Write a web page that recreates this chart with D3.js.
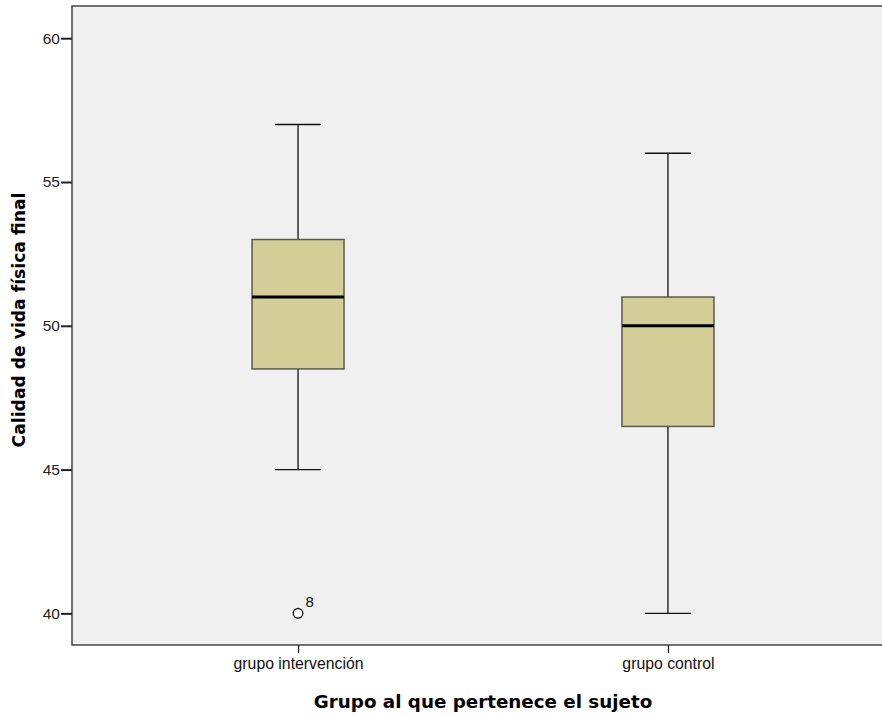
<!DOCTYPE html>
<html><head><meta charset="utf-8">
<script src="https://cdn.jsdelivr.net/npm/d3@7"></script>
<style>body{margin:0;background:#fff}svg{display:block}</style>
</head><body>
<script>
const categories = ["grupo intervención", "grupo control"];
const mins = [45, 40];
const q1s = [48.5, 46.5];
const medians = [51, 50];
const q3s = [53, 51];
const maxs = [57, 56];
const outliers = [{group: "grupo intervención", value: 40, label: "8"}];
const yTicks = [40, 45, 50, 55, 60];

const W = 882, H = 717;
const L = 72, R = 894, T = 6, B = 645;
const svg = d3.select("body").append("svg").attr("width", W).attr("height", H);

const x = d3.scalePoint().domain(categories).range([L, R]).padding(0.611);
const y = d3.scaleLinear().domain([38.9, 61.12]).range([B, T]);

svg.append("rect").attr("x", L).attr("y", T).attr("width", R - L).attr("height", B - T)
  .attr("fill", "#f0f0f0").attr("stroke", "#444").attr("stroke-width", 1.5);

const boxW = 92, capW = 46;
categories.forEach((c, i) => {
  const cx = x(c);
  const g = svg.append("g");
  g.append("line").attr("x1", cx).attr("x2", cx).attr("y1", y(maxs[i])).attr("y2", y(q3s[i])).attr("stroke", "#111").attr("stroke-width", 1.3);
  g.append("line").attr("x1", cx).attr("x2", cx).attr("y1", y(q1s[i])).attr("y2", y(mins[i])).attr("stroke", "#111").attr("stroke-width", 1.3);
  g.append("line").attr("x1", cx - capW/2).attr("x2", cx + capW/2).attr("y1", y(maxs[i])).attr("y2", y(maxs[i])).attr("stroke", "#111").attr("stroke-width", 1.3);
  g.append("line").attr("x1", cx - capW/2).attr("x2", cx + capW/2).attr("y1", y(mins[i])).attr("y2", y(mins[i])).attr("stroke", "#111").attr("stroke-width", 1.3);
  g.append("rect").attr("x", cx - boxW/2).attr("y", y(q3s[i])).attr("width", boxW).attr("height", y(q1s[i]) - y(q3s[i]))
    .attr("fill", "#d3ce97").attr("stroke", "#5a5a50").attr("stroke-width", 1.5);
  g.append("line").attr("x1", cx - boxW/2).attr("x2", cx + boxW/2).attr("y1", y(medians[i])).attr("y2", y(medians[i])).attr("stroke", "#000").attr("stroke-width", 3);
});

outliers.forEach(o => {
  svg.append("circle").attr("cx", x(o.group)).attr("cy", y(o.value)).attr("r", 4.8)
    .attr("fill", "#f8f8f8").attr("stroke", "#222").attr("stroke-width", 1.4);
  svg.append("text").attr("x", x(o.group) + 7.5).attr("y", y(o.value) - 6)
    .attr("font-family", "Liberation Sans, Arial, sans-serif").attr("font-size", 15).attr("fill", "#111").text(o.label);
});

// Y axis
const yAxis = d3.axisLeft(y).tickValues(yTicks).tickSize(11).tickPadding(1).tickFormat(d3.format("d"));
const ya = svg.append("g").attr("transform", `translate(${L},0)`).call(yAxis);
ya.select(".domain").remove();
ya.selectAll(".tick line").attr("stroke", "#222").attr("stroke-width", 2);
ya.selectAll(".tick text").attr("font-family", "Liberation Sans, Arial, sans-serif").attr("font-size", 15.5).attr("fill", "#222");

// X axis
const xAxis = d3.axisBottom(x).tickSize(8).tickPadding(5);
const xa = svg.append("g").attr("transform", `translate(0,${B})`).call(xAxis);
xa.select(".domain").remove();
xa.selectAll(".tick line").attr("stroke", "#222").attr("stroke-width", 1.3);
xa.selectAll(".tick text").attr("font-family", "Liberation Sans, Arial, sans-serif").attr("font-size", 15.8).attr("fill", "#111");

svg.append("text").attr("x", 483).attr("y", 708).attr("text-anchor", "middle")
  .attr("font-family", "DejaVu Sans, Verdana, sans-serif").attr("font-weight", "bold").attr("font-size", 18.3).attr("fill", "#000")
  .text("Grupo al que pertenece el sujeto");

svg.append("text").attr("transform", `translate(25,320) rotate(-90)`).attr("text-anchor", "middle")
  .attr("font-family", "DejaVu Sans, Verdana, sans-serif").attr("font-weight", "bold").attr("font-size", 17.2).attr("fill", "#000")
  .text("Calidad de vida física final");
</script>
</body></html>
